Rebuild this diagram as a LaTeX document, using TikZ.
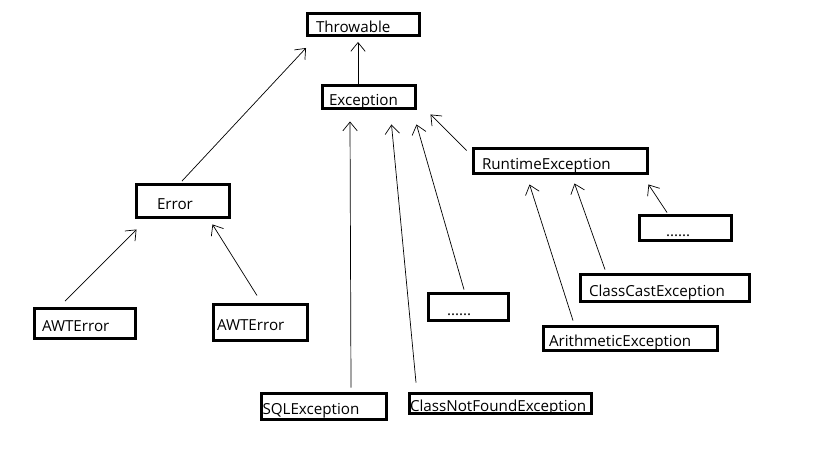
\documentclass[tikz,border=0pt]{standalone}
\usepackage{fontspec}
\setmainfont{Open Sans}
\usetikzlibrary{arrows.meta, calc}
\newcommand{\pix}{0.025cm}
\hyphenpenalty=10000
\begin{document}
\begin{tikzpicture}[
        x=0.025cm, y=-0.025cm,
        every node/.style={font=\fontsize{10.8}{13}\selectfont},
        cls/.style n args={3}{
            rectangle, draw=black, line width=2.1pt,
            inner ysep=0pt, inner xsep={#3*\pix},
            text width={(#1-3-2*#3)*\pix}, minimum height={(#2-3)*\pix},
            text height=11.5pt, text depth=0pt, align=left
        },
        arr/.style={-{Straight Barb[length=2.2mm, width=3.6mm]}, line width=0.5pt, draw=black}
    ]
    \useasboundingbox (0,0) rectangle (819,460);

% --- Klassen ---
    \node[cls={115}{25}{8.5}] (thr) at (363.5,24.5) {Throwable};
    \node[cls={96}{26}{6.5}] (exc) at (369,97) {Exception};
    \node[cls={96}{36}{20.5}] (err) at (183,201) {Error};
    \node[cls={104}{33}{7.5}] (awtl) at (85,323.5) {AWTError};
    \node[cls={97}{39}{3.5}] (awtr) at (260.5,322.5) {AWTError};
    \node[cls={177}{28}{8.5}] (rte) at (560.5,161) {RuntimeException};
    \node[cls={95}{28}{26.5}] (rdots) at (685.5,228) {......};
    \node[cls={83}{30}{18.5}] (mdots) at (468.5,307) {......};
    \node[cls={172}{30}{8.5}] (cce) at (665,288) {ClassCastException};
    \node[cls={177}{27}{5.5}] (ari) at (630.5,338.5) {ArithmeticException};
    \node[cls={128}{29}{1}] (sql) at (324,406.5) {SQLException};
    \node[cls={185}{23}{0.5}] (cnf) at (500.5,403.5) {ClassNotFoundException};

% --- Vererbung ---
    \draw[arr] ($(err.north)+(-1,-2)$) -- ($(thr.south west)+(0,11)$);
    \draw[arr] ($(exc.north)+(-11,0)$) -- ($(thr.south)+(-5.5,5)$);
    \draw[arr] ($(awtl.north)+(-20,-6)$) -- ($(err.south west)+(1.5,10.5)$);
    \draw[arr] ($(awtr.north)+(-3.5,-7.5)$) -- ($(err.south east)+(-18.5,5.5)$);
    \draw[arr] ($(sql.north)+(27,-4.5)$) -- ($(exc.south)+(-19,11.5)$);
    \draw[arr] ($(cnf.north)+(-84.5,-9.5)$) -- ($(exc.south east)+(-25.5,14.5)$);
    \draw[arr] ($(mdots.north)+(-4.5,-2.5)$) -- ($(exc.south east)+(-0.5,14.5)$);
    \draw[arr] ($(rte.north west)+(-5.5,3.5)$) -- ($(exc.south east)+(13.5,4.5)$);
    \draw[arr] ($(ari.north)+(-57.5,-4.5)$) -- ($(rte.south west)+(57.5,9.5)$);
    \draw[arr] ($(cce.north)+(-60,-3.5)$) -- ($(rte.south west)+(102.5,8.5)$);
    \draw[arr] ($(rdots.north)+(-18.5,-1.5)$) -- ($(rte.south east)+(-0.5,9.5)$);
\end{tikzpicture}
\end{document}
